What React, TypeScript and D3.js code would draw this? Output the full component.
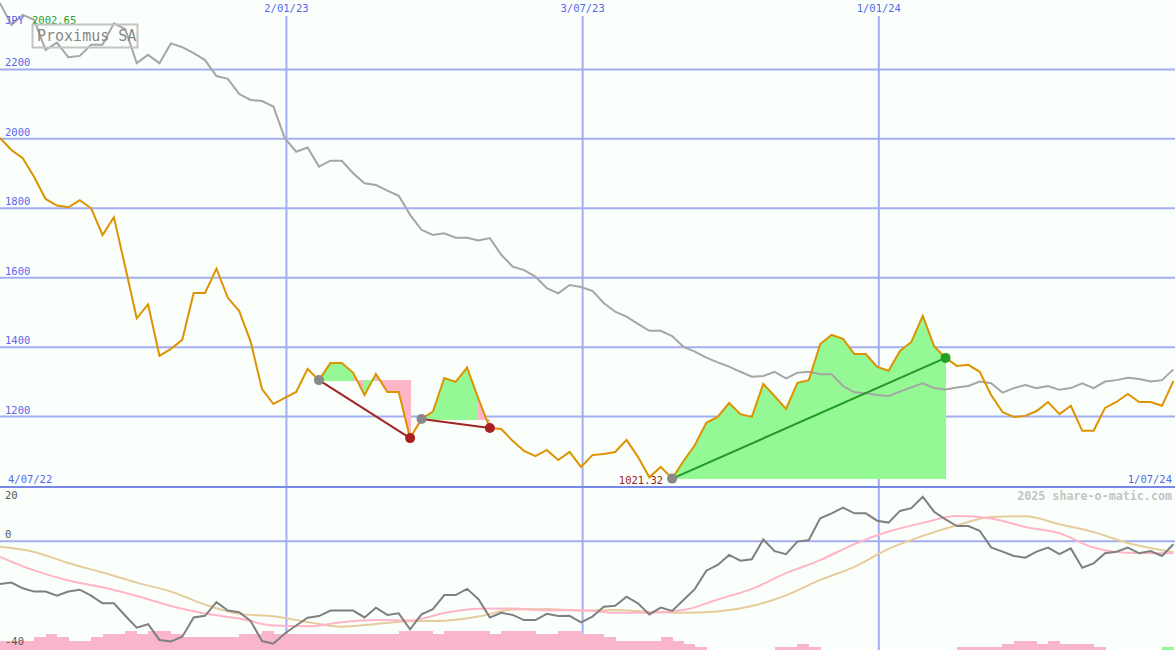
import React from "react";
import * as d3 from "d3";

// ---------- data ----------
const startDate = new Date(2022, 6, 10);
const endDate = new Date(2024, 6, 1);

const price = [
  2002.65, 1968, 1944, 1890, 1827, 1808, 1803, 1823, 1800, 1723,
  1774, 1630, 1483, 1523, 1375, 1395, 1421, 1556, 1556, 1626,
  1542, 1504, 1416, 1279, 1236, 1254, 1271, 1337, 1305, 1354,
  1354, 1326, 1262, 1323, 1271, 1271, 1138, 1193, 1214, 1311,
  1300, 1341, 1251, 1167, 1164, 1130, 1101, 1086, 1104, 1075,
  1098, 1055, 1089, 1092, 1098, 1133, 1084, 1025, 1055, 1021.32,
  1072, 1118, 1182, 1199, 1239, 1207, 1199, 1294, 1259, 1222,
  1297, 1305, 1409, 1435, 1424, 1380, 1380, 1343, 1332, 1389,
  1415, 1490, 1403, 1369, 1346, 1349, 1329, 1262, 1213, 1199,
  1202, 1216, 1242, 1207, 1231, 1159, 1159, 1225, 1242, 1265,
  1242, 1242, 1231, 1302,
];

const comparePrice = [
  2391, 2328, 2357, 2343, 2256, 2277, 2235, 2239, 2271, 2271,
  2333, 2316, 2218, 2242, 2218, 2275, 2264, 2247, 2227, 2181,
  2173, 2129, 2112, 2109, 2093, 2002, 1963, 1975, 1920, 1937,
  1937, 1901, 1872, 1867, 1851, 1836, 1781, 1738, 1723, 1728,
  1715, 1715, 1707, 1714, 1666, 1632, 1622, 1603, 1570, 1555,
  1579, 1573, 1562, 1527, 1502, 1488, 1467, 1447, 1447, 1432,
  1401, 1387, 1370, 1356, 1344, 1329, 1315, 1317, 1329, 1310,
  1326, 1329, 1322, 1322, 1288, 1270, 1267, 1262, 1259, 1272,
  1284, 1296, 1282, 1278, 1284, 1288, 1301, 1296, 1269, 1282,
  1291, 1282, 1288, 1277, 1282, 1296, 1282, 1301, 1305, 1312,
  1308, 1301, 1305, 1336,
];

const oscillator = [
  -15.7, -15.2, -17.3, -18.5, -18.5, -20.0, -18.5, -17.8, -20.0, -22.8,
  -22.8, -27.4, -31.8, -30.5, -36.3, -36.9, -35.1, -28.0, -27.4, -22.4,
  -25.5, -26.1, -29.3, -36.7, -37.7, -33.9, -31.0, -28.1, -27.5, -25.5,
  -25.5, -25.5, -28.0, -24.4, -27.1, -26.5, -32.4, -26.9, -25.0, -19.8,
  -19.8, -17.5, -21.3, -28.0, -26.3, -27.1, -29.0, -29.0, -26.7, -27.5,
  -27.4, -29.8, -27.7, -24.1, -23.7, -20.4, -22.8, -26.9, -24.4, -25.6,
  -21.6, -17.5, -10.8, -8.7, -5.0, -7.1, -6.6, 0.7, -3.6, -4.7,
  -0.1, 0.5, 8.5, 10.3, 12.4, 10.3, 10.3, 7.6, 6.9, 11.2,
  12.2, 16.4, 10.9, 8.1, 5.6, 5.6, 3.9, -2.2, -3.8, -5.4,
  -6.0, -3.8, -2.3, -4.7, -2.6, -9.7, -8.1, -4.4, -3.8, -2.3,
  -4.4, -3.6, -5.4, -1.1,
];

const maWeeks = [
  0, 3, 6, 9, 12, 15, 18, 21, 24, 27, 30, 33, 36, 39, 42, 45, 48, 51,
  54, 57, 60, 63, 66, 69, 72, 75, 78, 81, 84, 87, 90, 93, 96, 99, 103,
];
const fastMA = [
  -5.7, -10.7, -14.4, -16.9, -20.1, -23.8, -26.6, -28.4, -31.0, -31.3,
  -29.8, -29.0, -29.1, -26.4, -24.8, -24.7, -25.4, -25.4, -26.3, -26.3,
  -25.3, -21.4, -17.5, -11.7, -6.9, -1.0, 3.6, 6.8, 9.3, 8.4,
  5.3, 3.0, -2.3, -4.2, -4.4,
];
const slowMA = [
  -2.0, -3.9, -8.0, -11.5, -15.2, -18.5, -23.3, -26.7, -27.6, -29.7,
  -31.4, -30.4, -29.4, -29.2, -27.7, -25.1, -24.9, -25.5, -25.3, -26.0,
  -26.3, -25.8, -23.8, -19.9, -14.2, -9.4, -2.8, 2.0, 5.9, 9.0,
  9.2, 6.3, 3.4, -0.6, -4.0,
];

const barLevels = [
  3, 3, 3, 4, 5, 4, 3, 3, 4, 5,
  5, 6, 5, 6, 6, 5, 4, 4, 4, 4,
  4, 5, 5, 6, 5, 5, 5, 5, 5, 5,
  5, 5, 5, 5, 5, 6, 6, 6, 5, 6,
  6, 6, 6, 5, 6, 6, 6, 5, 5, 6,
  6, 5, 5, 4, 3, 3, 3, 3, 4, 3,
  2, 1, 0, 0, 0, 0, 0, 0, 1, 1,
  2, 1, 0, 0, 0, 0, 0, 0, 0, 0,
  0, 0, 0, 0, 1, 1, 1, 1, 2, 3,
  3, 2, 3, 2, 2, 2, 1, 0, 0, 0,
  0, 0, -1, 0,
];

const priceTicks = [1200, 1400, 1600, 1800, 2000, 2200];
const dateTickDates = [new Date(2023, 0, 2), new Date(2023, 6, 3), new Date(2024, 0, 1)];
const dateTickLabels = ["2/01/23", "3/07/23", "1/01/24"];
const startLabel = "4/07/22";
const endLabel = "1/07/24";
const lowerTicks = [20, 0, -40];
const tradeEntry = [28, 37, 59];
const tradeExit = [36, 43, 83];
const title = "Proximus SA";
const currency = "JPY";
const headline = "2002.65";
const lowLabel = "1021.32";
const watermark = "2025 share-o-matic.com";

// ---------- chart ----------
const W = 1175;
const H = 650;
const FONT = "'DejaVu Sans Mono', monospace";

export default function App() {
  const dates = price.map((_, i) => d3.timeDay.offset(startDate, i * 7));
  const x = d3.scaleTime().domain([startDate, endDate]).range([0, W]);
  const y = d3.scaleLinear().domain([1000, 2400]).range([486, 0]);
  const yl = d3.scaleLinear().domain([-40, 20]).range([650, 487]);
  const yb = d3.scaleLinear().domain([0, 6]).range([650, 631]);
  const step = x(dates[1]) - x(dates[0]);

  const line = d3
    .line<number>()
    .x((_, i) => x(dates[i]))
    .y((d) => y(d));
  const oscLine = d3
    .line<number>()
    .x((_, i) => x(dates[i]))
    .y((d) => yl(d));
  const maLine = d3
    .line<number>()
    .x((_, i) => x(dates[maWeeks[i]]))
    .y((d) => yl(d))
    .curve(d3.curveMonotoneX);

  const fills: { d: string; c: string }[] = [];
  tradeEntry.forEach((a, k) => {
    const b = tradeExit[k];
    const e = price[a];
    for (let j = a; j < b; j++) {
      const p = [
        [x(dates[j]), y(price[j])],
        [x(dates[j + 1]), y(price[j + 1])],
        [x(dates[j + 1]), y(e)],
        [x(dates[j]), y(e)],
      ];
      fills.push({
        d: "M" + p.map((q) => q.join(",")).join("L") + "Z",
        c: price[j + 1] >= e ? "#94f994" : "#fdb6c8",
      });
    }
  });

  const gridC = "#a3aef0";
  const labelC = "#5566ee";
  const yLow0 = yl(0);

  return (
    <div style={{ position: "absolute", left: 0, top: 0 }}>
      <svg width={W} height={H} style={{ display: "block" }}>
        <rect x={0} y={0} width={W} height={H} fill="#fbfffb" />

        {/* horizontal grid upper */}
        {priceTicks.map((t) => (
          <line key={t} x1={0} x2={W} y1={y(t)} y2={y(t)} stroke={gridC} strokeWidth={2} />
        ))}
        {/* vertical grid */}
        {dateTickDates.map((d, i) => (
          <line key={i} x1={x(d)} x2={x(d)} y1={16} y2={H} stroke={gridC} strokeWidth={2} />
        ))}
        {/* lower zero line */}
        <line x1={0} x2={W} y1={yLow0} y2={yLow0} stroke={gridC} strokeWidth={2} />
        {/* separator */}
        <line x1={0} x2={W} y1={y(1000) + 1} y2={y(1000) + 1} stroke="#7a88e8" strokeWidth={2} />

        {/* lower bars */}
        {barLevels.map((v, i) =>
          v === 0 ? null : (
            <rect
              key={i}
              x={x(dates[i])}
              y={yb(Math.abs(v))}
              width={step + 0.5}
              height={650 - yb(Math.abs(v))}
              fill={v > 0 ? "#f9b5c9" : "#94f994"}
              shapeRendering="crispEdges"
            />
          )
        )}

        {/* trade fills */}
        {fills.map((f, i) => (
          <path key={i} d={f.d} fill={f.c} stroke={f.c} strokeWidth={1} shapeRendering="crispEdges" />
        ))}

        {/* compare line */}
        <path d={line(comparePrice) || ""} fill="none" stroke="#a6a6a6" strokeWidth={2} />
        {/* price line */}
        <path d={line(price) || ""} fill="none" stroke="#dd9200" strokeWidth={2} />

        {/* trades */}
        {tradeEntry.map((a, k) => {
          const b = tradeExit[k];
          const win = price[b] > price[a];
          const c = win ? "#22a022" : "#a82020";
          return (
            <g key={k}>
              <line
                x1={x(dates[a])}
                y1={y(price[a])}
                x2={x(dates[b])}
                y2={y(price[b])}
                stroke={win ? "#229922" : "#a02525"}
                strokeWidth={2}
              />
              <circle cx={x(dates[a])} cy={y(price[a])} r={5} fill="#888888" />
              <circle cx={x(dates[b])} cy={y(price[b])} r={5} fill={c} />
            </g>
          );
        })}

        {/* lower panel lines */}
        <path d={maLine(slowMA) || ""} fill="none" stroke="#e6cc9c" strokeWidth={2} />
        <path d={maLine(fastMA) || ""} fill="none" stroke="#ffb4c8" strokeWidth={2} />
        <path d={oscLine(oscillator) || ""} fill="none" stroke="#808080" strokeWidth={2} />

        {/* texts */}
        <g fontFamily={FONT} fontSize={10.5}>
          {priceTicks.map((t) => (
            <text key={t} x={5} y={y(t) - 3} fill={labelC}>
              {t}
            </text>
          ))}
          {dateTickDates.map((d, i) => (
            <text key={i} x={x(d)} y={12} textAnchor="middle" fill={labelC}>
              {dateTickLabels[i]}
            </text>
          ))}
          <text x={8} y={483} fill={labelC}>
            {startLabel}
          </text>
          <text x={1172} y={483} textAnchor="end" fill={labelC}>
            {endLabel}
          </text>
          {lowerTicks.map((t) => (
            <text
              key={t}
              x={5}
              y={t === 20 ? yl(t) + 12 : t === 0 ? yl(t) - 3 : yl(t) - 5}
              fill="#555555"
            >
              {t}
            </text>
          ))}
          <text x={5} y={24} fill={labelC}>
            {currency}
          </text>
          <text x={32} y={24} fill="#22a022">
            {headline}
          </text>
          <text
            x={x(dates[tradeEntry[2]]) - 9}
            y={y(price[tradeEntry[2]]) + 5}
            textAnchor="end"
            fill="#a02020"
          >
            {lowLabel}
          </text>
        </g>

        <rect x={32.5} y={24.5} width={105} height={23} fill="none" stroke="#c4c4c4" strokeWidth={2} />
        <text x={37} y={41} fontFamily={FONT} fontSize={15} fill="#888888">
          {title}
        </text>
        <text
          x={1172}
          y={500}
          textAnchor="end"
          fontFamily={FONT}
          fontSize={11.7}
          fontWeight="bold"
          fill="#c4c4c4"
        >
          {watermark}
        </text>
      </svg>
    </div>
  );
}
